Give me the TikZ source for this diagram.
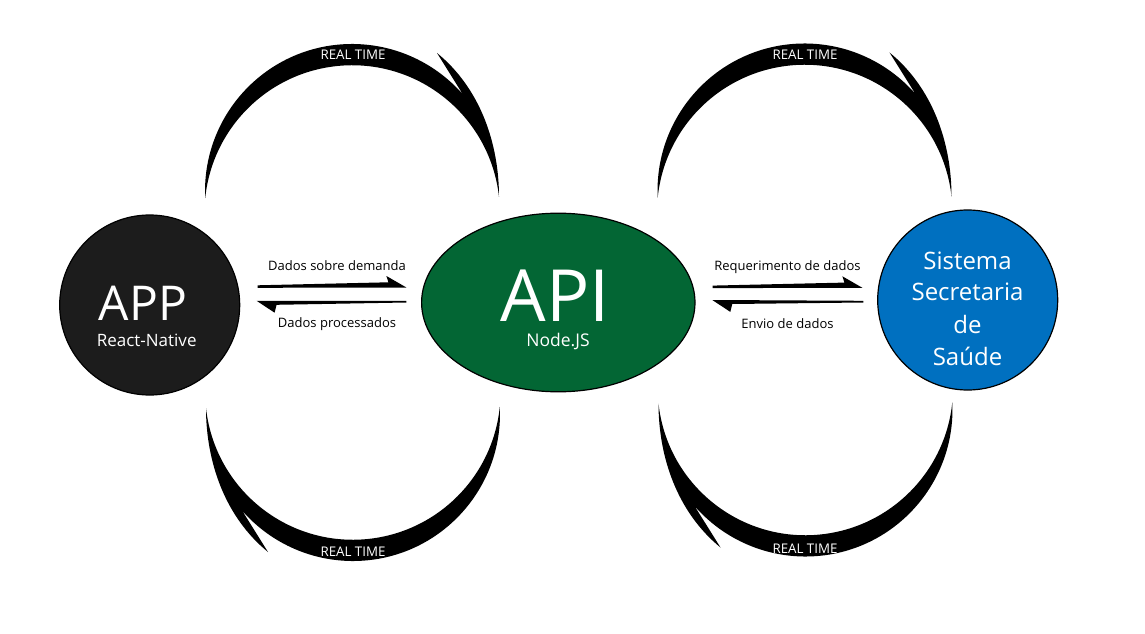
\documentclass[tikz,border=0pt]{standalone}
\usepackage{fontspec}
\setmainfont{Open Sans}
\usetikzlibrary{shapes.geometric,calc}
\definecolor{appfill}{HTML}{1C1C1C}
\definecolor{apifill}{HTML}{036634}
\definecolor{sisfill}{HTML}{0070C0}
\tikzset{
  rtarc/.pic={
    \fill[black] (-147.3,104.6) arc[start angle=182.7, end angle=41, radius=147]
      -- (84.5,249.5) .. controls (127.5,214.5) and (146.5,159.5) .. (146.5,105.5)
      arc[start angle=6.2, end angle=174.2, radius=147.7] -- cycle;
  },
  harpR/.style={fill=black, to path={-- (\tikztotarget) -- ++(-20,11.5) -- ++(2,-6.3) -- ($(\tikztostart)+(0,2.5)$) -- cycle}},
  harpL/.style={fill=black, to path={-- (\tikztotarget) -- ++(18,-11.9) -- ++(2,7.9) -- ($(\tikztostart)+(0,-1.7)$) -- cycle}},
  bubble/.style={draw=black, line width=1.2pt, inner sep=0pt},
  rtlabel/.style={anchor=base, text=white, inner sep=1pt, font=\fontsize{13.3}{13.3}\selectfont},
  arlabel/.style={anchor=base, text=black, inner sep=1pt, font=\fontsize{13}{15}\selectfont},
  intxt/.style={anchor=base, text=white, inner sep=1pt},
}
\begin{document}
\begin{tikzpicture}[x=1pt,y=1pt]
\fill[white] (0,0) rectangle (1145,633);
\useasboundingbox (0,0) rectangle (1145,633);

% nodes
\node[bubble, circle, fill=appfill, minimum size=180pt] (app) at (149.7,328) {};
\node[bubble, ellipse, fill=apifill, minimum width=273.4pt, minimum height=178.6pt] (api) at (558.3,330.5) {};
\node[bubble, circle, fill=sisfill, minimum size=180pt] (sis) at (967.7,333) {};

% texts in nodes
\node[intxt, text depth=0pt, font=\fontsize{48}{48}\selectfont] (apptxt) at (143,313) {APP};
\node[intxt, font=\fontsize{17}{17}\selectfont] (appsub) at (146.7,286.3) {React-Native};
\node[intxt, text depth=0pt, font=\fontsize{72}{72}\selectfont] (apitxt) at (555,311.3) {API};
\node[intxt, font=\fontsize{17.5}{17.5}\selectfont] (apisub) at (558,286.3) {Node.JS};
\node[intxt, font=\fontsize{24}{24}\selectfont] (sis1) at (967.5,364) {Sistema};
\node[intxt, font=\fontsize{24}{24}\selectfont] (sis2) at (967.5,333) {Secretaria};
\node[intxt, font=\fontsize{24}{24}\selectfont] (sis3) at (967.5,299.7) {de};
\node[intxt, font=\fontsize{24}{24}\selectfont] (sis4) at (967.5,268) {Saúde};

% circular real-time arrows
\pic at (352.5,330.5) {rtarc};
\pic[rotate=180] at (352.5,330.5) {rtarc};
\pic at (805,331) {rtarc};
\pic[rotate=180] at (805,335) {rtarc};

\node[rtlabel] (rt1) at (353,573) {REAL TIME};
\node[rtlabel] (rt2) at (805,573) {REAL TIME};
\node[rtlabel] (rt3) at (353,76.3) {REAL TIME};
\node[rtlabel] (rt4) at (805,80) {REAL TIME};

% half arrows
\path[harpR] ([shift={(17.3,17.2)}]app.east) to ([shift={(-14.6,15)}]api.west);
\path[harpL] ([shift={(-14.6,1.7)}]api.west) to ([shift={(16.3,4.2)}]app.east);
\path[harpR] ([shift={(17,14.4)}]api.east) to ([shift={(-14.7,12.2)}]sis.west);
\path[harpL] ([shift={(-13.7,-0.8)}]sis.west) to ([shift={(16.7,2.5)}]api.east);

\node[arlabel] (l1) at (337,362.3) {Dados sobre demanda};
\node[arlabel] (l2) at (337,305.7) {Dados processados};
\node[arlabel] (l3) at (787.5,363) {Requerimento de dados};
\node[arlabel] (l4) at (787.5,304.5) {Envio de dados};
\end{tikzpicture}
\end{document}
